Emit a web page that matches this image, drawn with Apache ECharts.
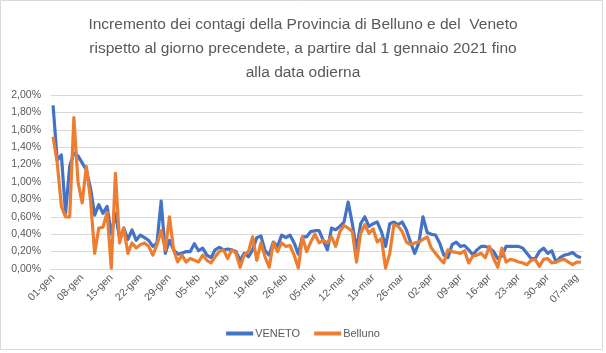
<!DOCTYPE html>
<html>
<head>
<meta charset="utf-8">
<script src="https://cdn.jsdelivr.net/npm/echarts@6/dist/echarts.min.js"></script>
<style>
  html, body { margin: 0; padding: 0; background: #fff; }
  #chart { width: 606px; height: 353px; }
</style>
</head>
<body>
<div id="chart"></div>
<script>
// months shown on the axis and how many days of each are in the data
const monthNames = ['gen', 'feb', 'mar', 'apr', 'mag']
const monthDays = [31, 28, 31, 30, 8]

const categories = []
monthNames.forEach((m, k) => {
  for (let d = 1; d <= monthDays[k]; d++) {
    categories.push(String(d).padStart(2, '0') + '-' + m)
  }
})

// daily increment, in percent
const veneto = [
  1.88, 1.25, 1.31, 0.64, 1.18, 1.33, 1.30, 1.22, 1.14, 0.93,
  0.62, 0.74, 0.64, 0.72, 0.40, 0.64, 0.35, 0.47, 0.34, 0.45,
  0.33, 0.39, 0.36, 0.33, 0.26, 0.30, 0.78, 0.18, 0.33, 0.22,
  0.17, 0.18, 0.20, 0.20, 0.29, 0.21, 0.24, 0.16, 0.13, 0.22,
  0.25, 0.22, 0.23, 0.22, 0.20, 0.10, 0.18, 0.14, 0.22, 0.36,
  0.38, 0.21, 0.16, 0.31, 0.26, 0.39, 0.36, 0.39, 0.30, 0.17,
  0.37, 0.37, 0.43, 0.44, 0.44, 0.33, 0.22, 0.47, 0.45, 0.49,
  0.54, 0.77, 0.52, 0.22, 0.52, 0.60, 0.49, 0.52, 0.54, 0.43,
  0.26, 0.52, 0.54, 0.51, 0.54, 0.45, 0.31, 0.18, 0.30, 0.60,
  0.42, 0.40, 0.39, 0.30, 0.16, 0.13, 0.28, 0.31, 0.26, 0.27,
  0.22, 0.16, 0.22, 0.26, 0.26, 0.24, 0.20, 0.12, 0.15, 0.26,
  0.26, 0.26, 0.26, 0.24, 0.18, 0.12, 0.12, 0.20, 0.24, 0.18,
  0.21, 0.08, 0.13, 0.16, 0.17, 0.19, 0.15, 0.13
]

const belluno = [
  1.52, 1.22, 0.72, 0.60, 0.60, 1.74, 1.00, 0.76, 1.18, 0.80,
  0.18, 0.47, 0.48, 0.65, 0.01, 1.10, 0.30, 0.47, 0.18, 0.30,
  0.24, 0.28, 0.30, 0.26, 0.16, 0.28, 0.44, 0.22, 0.60, 0.22,
  0.08, 0.16, 0.08, 0.12, 0.10, 0.08, 0.16, 0.10, 0.07, 0.14,
  0.20, 0.22, 0.12, 0.22, 0.18, 0.02, 0.16, 0.20, 0.37, 0.10,
  0.30, 0.14, 0.02, 0.30, 0.20, 0.30, 0.26, 0.27, 0.16, 0.01,
  0.37, 0.20, 0.31, 0.40, 0.30, 0.33, 0.30, 0.37, 0.26, 0.43,
  0.50, 0.47, 0.43, 0.08, 0.41, 0.51, 0.41, 0.46, 0.31, 0.35,
  0.01, 0.18, 0.51, 0.49, 0.43, 0.31, 0.28, 0.30, 0.31, 0.34,
  0.37, 0.24, 0.18, 0.12, 0.07, 0.22, 0.20, 0.19, 0.18, 0.21,
  0.07, 0.15, 0.16, 0.18, 0.13, 0.26, 0.12, 0.02, 0.24, 0.08,
  0.11, 0.10, 0.08, 0.07, 0.05, 0.10, 0.11, 0.03, 0.11, 0.12,
  0.07, 0.08, 0.10, 0.11, 0.08, 0.05, 0.08, 0.08
]

const titleLines = [
  'Incremento dei contagi della Provincia di Belluno e del  Veneto',
  'rispetto al giorno precendete, a partire dal 1 gennaio 2021 fino',
  'alla data odierna'
]

const font = 'Liberation Sans, Arial, sans-serif'
const textColor = '#595959'

const chart = echarts.init(document.getElementById('chart'))

chart.setOption({
  animation: false,
  textStyle: { fontFamily: font },
  title: {
    text: titleLines.join('\n'),
    left: 'center',
    top: 8,
    textStyle: {
      fontFamily: font,
      fontSize: 15.5,
      fontWeight: 'normal',
      color: textColor,
      lineHeight: 24
    }
  },
  graphic: [
    {
      type: 'rect',
      shape: { x: 0.5, y: 0.5, width: 602, height: 349 },
      style: { fill: 'none', stroke: '#d9d9d9', lineWidth: 1 },
      silent: true
    }
  ],
  grid: { left: 51, right: 23, top: 95, bottom: 84 },
  legend: {
    bottom: 9,
    left: 'center',
    icon: 'rect',
    itemWidth: 27,
    itemHeight: 4,
    itemGap: 14,
    textStyle: { fontFamily: font, fontSize: 11, color: textColor, padding: [0, 0, 0, -3] },
    data: ['VENETO', 'Belluno']
  },
  xAxis: {
    type: 'category',
    data: categories,
    boundaryGap: true,
    axisLine: { lineStyle: { color: '#d9d9d9' } },
    axisTick: { interval: 6, length: 4, lineStyle: { color: '#d9d9d9' } },
    axisLabel: {
      interval: 6,
      rotate: 45,
      margin: 7,
      fontFamily: font,
      fontSize: 10.5,
      color: textColor
    },
    splitLine: { show: false }
  },
  yAxis: {
    type: 'value',
    min: 0,
    max: 2,
    interval: 0.2,
    axisLine: { show: false },
    axisTick: { show: false },
    axisLabel: {
      margin: 10,
      fontFamily: font,
      fontSize: 10.5,
      color: textColor,
      formatter: (v) => v.toFixed(2).replace('.', ',') + '%'
    },
    splitLine: { lineStyle: { color: '#d9d9d9' } }
  },
  series: [
    {
      name: 'VENETO',
      type: 'line',
      data: veneto,
      symbol: 'none',
      smooth: false,
      color: '#4472C4',
      lineStyle: { width: 3.2, color: '#4472C4', join: 'round' }
    },
    {
      name: 'Belluno',
      type: 'line',
      data: belluno,
      symbol: 'none',
      smooth: false,
      color: '#ED7D31',
      lineStyle: { width: 3.2, color: '#ED7D31', join: 'round' }
    }
  ]
})
</script>
</body>
</html>
